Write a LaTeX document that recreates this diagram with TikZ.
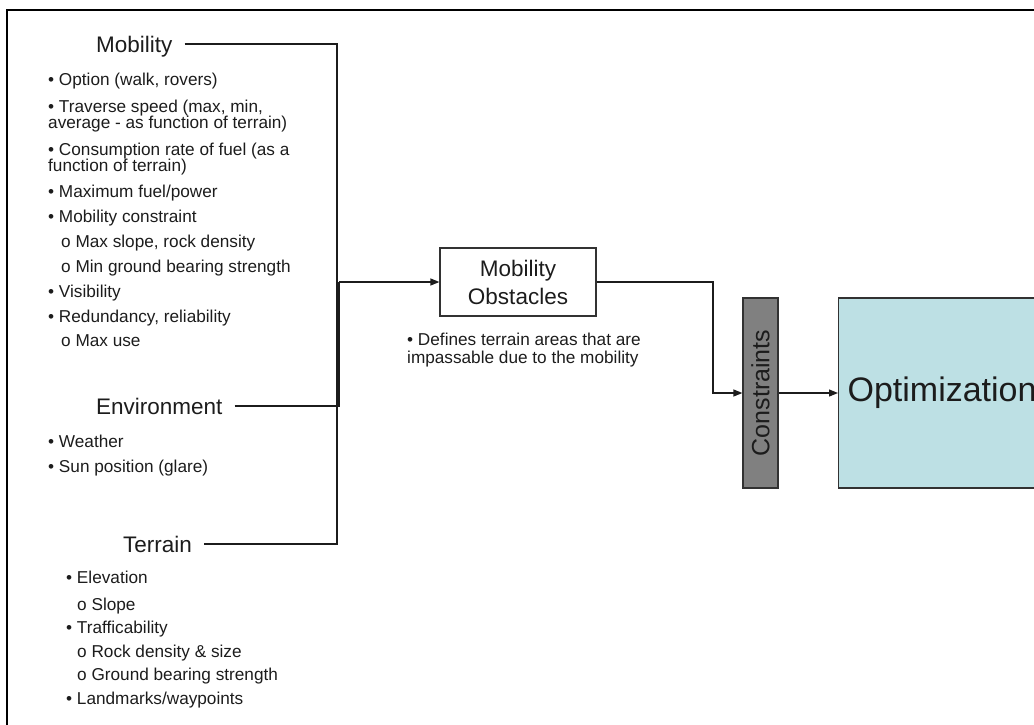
\documentclass[tikz,border=0pt]{standalone}
\usepackage{fontspec}
\setmainfont{Liberation Sans}
\usetikzlibrary{arrows.meta}
\definecolor{optfill}{RGB}{189,224,228}
\definecolor{consfill}{RGB}{128,128,128}
\definecolor{ink}{RGB}{28,28,28}
\definecolor{edge}{RGB}{50,50,50}
\begin{document}
\begin{tikzpicture}[x=1pt,y=-1pt,
  title/.style={font=\fontsize{22.5}{27}\selectfont, inner sep=0pt, anchor=base west, text=ink},
  body/.style={font=\fontsize{17.2}{16}\selectfont, inner sep=0pt, anchor=base west, text=ink},
  conn/.style={draw=ink, line width=1.2pt},
  arr/.style={conn, -{Triangle[length=9pt,width=7pt]}},
  boxx/.style={draw=edge, line width=1.2pt, text=ink}]
\useasboundingbox (0,0) rectangle (1034,724);
% frame (cropped at right and bottom)
\draw[line width=2pt, draw=black] (7,730) -- (7,10) -- (1040,10);

% titles
\node[title] (mobT) at (96,52) {Mobility};
\node[title] (envT) at (96,414) {Environment};
\node[title] (terT) at (123,552) {Terrain};

% mobility items
\node[body] (m1) at (48,85) {• Option (walk, rovers)};
\node[body] (m2) at (48,112) {• Traverse speed (max, min,};
\node[body] (m3) at (48,128) {average - as function of terrain)};
\node[body] (m4) at (48,155) {• Consumption rate of fuel (as a};
\node[body] (m5) at (48,171) {function of terrain)};
\node[body] (m6) at (48,197) {• Maximum fuel/power};
\node[body] (m7) at (48,222) {• Mobility constraint};
\node[body] (m8) at (61,247) {o Max slope, rock density};
\node[body] (m9) at (61,272) {o Min ground bearing strength};
\node[body] (m10) at (48,297) {• Visibility};
\node[body] (m11) at (48,322) {• Redundancy, reliability};
\node[body] (m12) at (61,346) {o Max use};

% environment items
\node[body] (e1) at (48,447) {• Weather};
\node[body] (e2) at (48,472) {• Sun position (glare)};

% terrain items
\node[body] (t1) at (66,583) {• Elevation};
\node[body] (t2) at (77,610) {o Slope};
\node[body] (t3) at (66,633) {• Trafficability};
\node[body] (t4) at (77,657) {o Rock density \& size};
\node[body] (t5) at (77,680) {o Ground bearing strength};
\node[body] (t6) at (66,704) {• Landmarks/waypoints};

% mobility obstacles
\node[boxx, minimum width=156pt, minimum height=68pt, align=center, inner sep=0pt,
      font=\fontsize{22.5}{28}\selectfont] (obs) at (518,282) {Mobility\\Obstacles};
\node[body] (d1) at (407,345) {• Defines terrain areas that are};
\node[body] (d2) at (407,363) {impassable due to the mobility};

% constraints and optimization
\node[boxx, fill=consfill, minimum width=35pt, minimum height=190pt, inner sep=0pt,
      font=\fontsize{25}{25}\selectfont] (cons) at (760.5,393) {\rotatebox{90}{Constraints}};
\node[boxx, fill=optfill, minimum height=190pt, inner xsep=9pt, anchor=west,
      font=\fontsize{34}{34}\selectfont] (opt) at (838,393) {Optimization};

% connector points
\coordinate (mobL) at ([xshift=12pt]mobT.east |- 0,44);
\coordinate (envL) at ([xshift=12pt]envT.east |- 0,406);
\coordinate (terL) at ([xshift=12pt]terT.east |- 0,544);
\coordinate (jTop) at (337,44);
\coordinate (jBot) at (337,544);
\coordinate (envJ) at (339,406);
\coordinate (brJ) at (339,282);
\coordinate (c1) at (713,282);

\draw[conn] (mobL) -- (jTop) -- (jBot) -- (terL);
\draw[conn] (envL) -- (envJ) -- (brJ);
\draw[arr] (brJ) -- (obs.west);
\draw[arr] (obs.east) -- (c1) |- (cons.west);
\draw[arr] (cons.east) -- (opt.west);
\end{tikzpicture}
\end{document}
